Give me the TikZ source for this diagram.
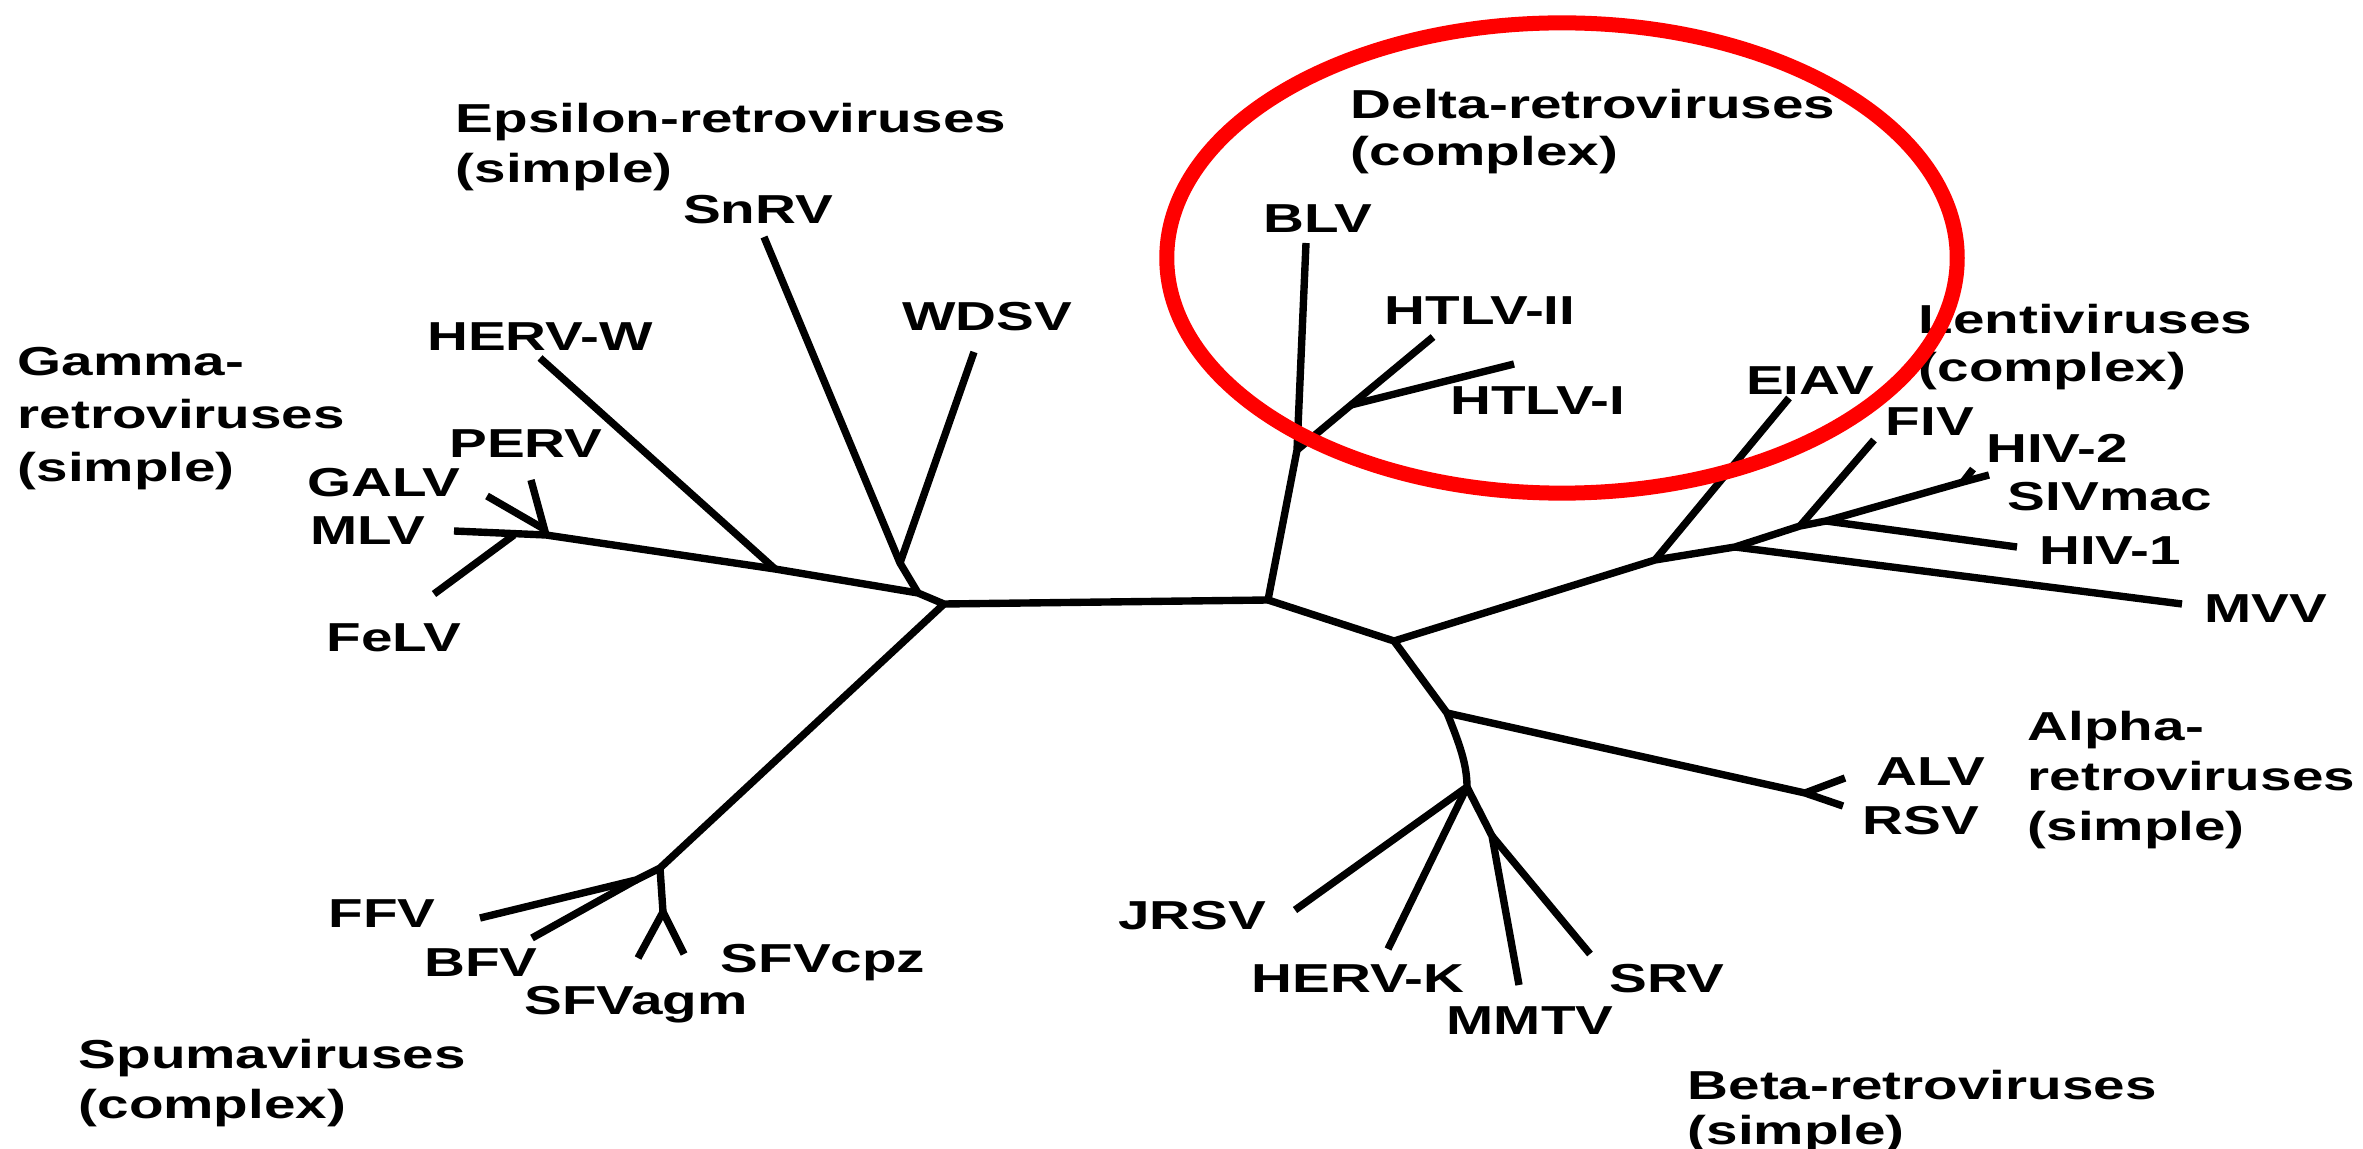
\documentclass[tikz,border=0pt]{standalone}
\usepackage{fontspec}
\setmainfont{Liberation Sans}[FakeStretch=1.4]
\begin{document}
\begin{tikzpicture}[x=0.01cm,y=-0.01cm,
  br/.style={line width=2.1pt, line join=round},
  tiplbl/.style={font=\fontsize{11.5}{14}\selectfont\bfseries, inner sep=0pt, text height=8.2pt, text depth=0pt, anchor=center},
  grplbl/.style={font=\fontsize{11.5}{14.3}\selectfont\bfseries, inner sep=0pt, align=left, anchor=north west},
  ring/.style={draw=red, line width=0.15cm}]
\fill[white] (0,0) rectangle (2363,1149);
\useasboundingbox (0,0) rectangle (2363,1149);

% ---- junctions and tips ----
\coordinate (L) at (944,604);
\coordinate (G) at (918,593);
\coordinate (E) at (900,563);
\coordinate (tSnRV) at (764,237);
\coordinate (tWDSV) at (974,352);
\coordinate (HW) at (775,569);
\coordinate (tHERVW) at (540,358);
\coordinate (M) at (546,535);
\coordinate (FJ) at (514,535);
\coordinate (tMLV) at (454,531);
\coordinate (tFeLV) at (434,594);
\coordinate (PG) at (544,529);
\coordinate (tPERV) at (531,480);
\coordinate (tGALV) at (487,496);

\coordinate (S) at (660,868);
\coordinate (S2) at (636,880);
\coordinate (tFFV) at (480,918);
\coordinate (tBFV) at (532,938);
\coordinate (S3) at (663,912);
\coordinate (tSFVagm) at (638,958);
\coordinate (tSFVcpz) at (684,954);

\coordinate (R) at (1268,600);
\coordinate (D1) at (1297,450);
\coordinate (tBLV) at (1306,243);
\coordinate (H) at (1351,405);
\coordinate (tHTLVII) at (1433,337);
\coordinate (tHTLVI) at (1514,364);
\coordinate (C) at (1394,641);
\coordinate (N1) at (1655,560);
\coordinate (tEIAV) at (1789,398);
\coordinate (N2) at (1735,547);
\coordinate (tMVV) at (2182,604);
\coordinate (N3) at (1800,526);
\coordinate (tFIV) at (1874,440);
\coordinate (N4) at (1826,521);
\coordinate (tHIVone) at (2017,547);
\coordinate (N5) at (1963,482);
\coordinate (tHIVtwo) at (1973,469);
\coordinate (tSIVmac) at (1989,475);
\coordinate (A) at (1447,713);
\coordinate (AF) at (1805,793);
\coordinate (tALV) at (1845,778);
\coordinate (tRSV) at (1843,806);
\coordinate (B) at (1467,787);
\coordinate (tJRSV) at (1295,910);
\coordinate (tHERVK) at (1388,949);
\coordinate (B2) at (1492,836);
\coordinate (tMMTV) at (1519,985);
\coordinate (tSRV) at (1590,954);

% ---- branches ----
\draw[br] (tMLV) -- (M) -- (HW) -- (G) -- (L) -- (R);
\draw[br] (tFeLV) -- (FJ);
\draw[br] (tPERV) -- (M);
\draw[br] (tGALV) -- (PG);
\draw[br] (tHERVW) -- (HW);
\draw[br] (tSnRV) -- (E) -- (G);
\draw[br] (tWDSV) -- (E);

\draw[br] (L) -- (S) -- (S2) -- (tFFV);
\draw[br] (S2) -- (tBFV);
\draw[br] (S) -- (S3) -- (tSFVagm);
\draw[br] (S3) -- (tSFVcpz);

\draw[br] (R) -- (D1) -- (tBLV);
\draw[br] (D1) -- (H) -- (tHTLVII);
\draw[br] (H) -- (tHTLVI);

\draw[br] (R) -- (C) -- (N1) -- (N2) -- (N3) -- (N4) -- (N5) -- (tSIVmac);
\draw[br] (N5) -- (tHIVtwo);
\draw[br] (N1) -- (tEIAV);
\draw[br] (N2) -- (tMVV);
\draw[br] (N3) -- (tFIV);
\draw[br] (N4) -- (tHIVone);

\draw[br] (C) -- (A) .. controls (1460,745) and (1467,765) .. (B) -- (tJRSV);
\draw[br] (B) -- (tHERVK);
\draw[br] (B) -- (B2) -- (tMMTV);
\draw[br] (B2) -- (tSRV);
\draw[br] (A) -- (AF) -- (tRSV);
\draw[br] (AF) -- (tALV);

% ---- tip labels ----
\node[tiplbl] (lSnRV) at (758,209) {SnRV};
\node[tiplbl] (lWDSV) at (987,316) {WDSV};
\node[tiplbl] (lHERVW) at (540,336) {HERV-W};
\node[tiplbl] (lPERV) at (526,443) {PERV};
\node[tiplbl] (lGALV) at (384,482) {GALV};
\node[tiplbl] (lMLV) at (368,530) {MLV};
\node[tiplbl] (lFeLV) at (394,637) {FeLV};
\node[tiplbl] (lFFV) at (382,913) {FFV};
\node[tiplbl] (lBFV) at (481,962) {BFV};
\node[tiplbl] (lSFVagm) at (636,1000) {SFVagm};
\node[tiplbl] (lSFVcpz) at (823,958) {SFVcpz};
\node[tiplbl] (lBLV) at (1318,218) {BLV};
\node[tiplbl] (lHTLVII) at (1480,310) {HTLV-II};
\node[tiplbl] (lHTLVI) at (1538,400) {HTLV-I};
\node[tiplbl] (lEIAV) at (1810,380) {EIAV};
\node[tiplbl] (lFIV) at (1930,421) {FIV};
\node[tiplbl] (lHIVtwo) at (2057,448) {HIV-2};
\node[tiplbl] (lSIVmac) at (2110,496) {SIVmac};
\node[tiplbl] (lHIVone) at (2110,550) {HIV-1};
\node[tiplbl] (lMVV) at (2266,608) {MVV};
\node[tiplbl] (lALV) at (1931,771) {ALV};
\node[tiplbl] (lRSV) at (1921,820) {RSV};
\node[tiplbl] (lJRSV) at (1192,915) {JRSV};
\node[tiplbl] (lHERVK) at (1358,978) {HERV-K};
\node[tiplbl] (lMMTV) at (1530,1020) {MMTV};
\node[tiplbl] (lSRV) at (1667,978) {SRV};

% ---- group labels ----
\node[grplbl] (gEps) at (455,102) {Epsilon-retroviruses\\(simple)};
\node[grplbl, font=\fontsize{11.5}{15}\selectfont\bfseries] (gGam) at (17,347) {Gamma-\\retroviruses\\(simple)};
\node[grplbl, font=\fontsize{11.5}{13.6}\selectfont\bfseries] (gDel) at (1350,88) {Delta-retroviruses\\(complex)};
\node[grplbl, font=\fontsize{11.5}{13.9}\selectfont\bfseries] (gLen) at (1918,303) {Lentiviruses\\(complex)};
\node[grplbl] (gAlp) at (2027,710) {Alpha-\\retroviruses\\(simple)};
\node[grplbl, font=\fontsize{11.5}{13}\selectfont\bfseries] (gBet) at (1687,1069) {Beta-retroviruses\\(simple)};
\node[grplbl] (gSpu) at (78,1038) {Spumaviruses\\(complex)};

% ---- red ring ----
\draw[ring] (1562,258) ellipse [x radius=3.95cm, y radius=2.35cm];
\end{tikzpicture}
\end{document}
